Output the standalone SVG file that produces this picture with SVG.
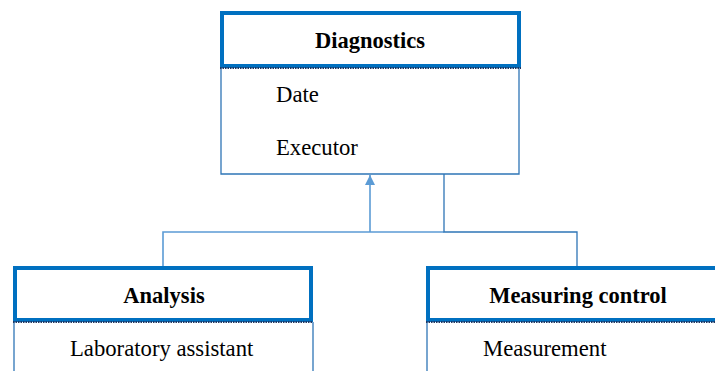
<svg xmlns="http://www.w3.org/2000/svg" width="715" height="371" viewBox="0 0 715 371">
  <style>
    .head { fill: #ffffff; stroke: #0070C0; stroke-width: 4; }
    .sep { stroke: #1F3864; stroke-width: 2; stroke-dasharray: 1.5 1; fill: none; }
    .body { fill: none; stroke: #2E75B6; stroke-width: 1.3; }
    .title { font-family: "Liberation Serif", "Times New Roman", serif; font-weight: bold; font-size: 22.5px; fill: #000; text-anchor: middle; }
    .attr { font-family: "Liberation Serif", "Times New Roman", serif; font-size: 22.7px; fill: #000; }
    .link { fill: none; stroke: #2E75B6; stroke-width: 1.3; }
    .link-light { fill: none; stroke: #5B9BD5; stroke-width: 1.6; }
  </style>
  <defs>
    <marker id="tri" viewBox="0 0 10 10" refX="10" refY="5" markerWidth="10" markerHeight="10" markerUnits="userSpaceOnUse" orient="auto">
      <path d="M0,0 L10,5 L0,10 z" fill="#5B9BD5"/>
    </marker>
  </defs>
  <rect width="715" height="371" fill="#ffffff"/>

  <!-- connectors -->
  <g id="connectors">
    <polyline class="link-light" points="163,266 163,232 444,232"/>
    <line class="link-light" x1="370" y1="232" x2="370" y2="175" marker-end="url(#tri)"/>
    <polyline class="link" points="444,174 444,232 577,232 577,266"/>
  </g>

  <!-- superclass -->
  <g id="diagnostics">
    <polyline class="body" points="221,68 221,174 519,174 519,68"/>
    <rect class="head" x="222" y="13" width="297" height="53"/>
    <line class="sep" x1="220" y1="68" x2="521" y2="68"/>
    <text class="title" x="370" y="48">Diagnostics</text>
    <text class="attr" x="276" y="102">Date</text>
    <text class="attr" x="276" y="155">Executor</text>
  </g>

  <g id="analysis">
    <polyline class="body" points="14,322 14,371"/>
    <polyline class="body" points="313,322 313,371"/>
    <rect class="head" x="15" y="268" width="296" height="52"/>
    <line class="sep" x1="13" y1="322" x2="313" y2="322"/>
    <text class="title" x="164" y="303">Analysis</text>
    <text class="attr" x="70" y="356">Laboratory assistant</text>
  </g>

  <g id="measuring-control">
    <polyline class="body" points="427,322 427,371"/>
    <rect class="head" x="428" y="268" width="300" height="52"/>
    <line class="sep" x1="426" y1="322" x2="715" y2="322"/>
    <text class="title" x="578" y="303">Measuring control</text>
    <text class="attr" x="483" y="356">Measurement</text>
  </g>
</svg>
